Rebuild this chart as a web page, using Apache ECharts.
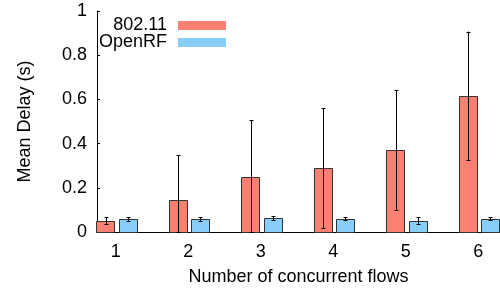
<!DOCTYPE html>
<html>
<head>
<meta charset="utf-8">
<script src="https://cdn.jsdelivr.net/npm/echarts@6/dist/echarts.min.js"></script>
<style>
  html, body { margin: 0; padding: 0; background: #fff; }
  #chart { width: 500px; height: 291px; }
</style>
</head>
<body>
<div id="chart"></div>
<script>
"use strict";

// data
const flows = [1, 2, 3, 4, 5, 6];
const wifiMean = [0.052, 0.143, 0.250, 0.290, 0.370, 0.614];
const wifiLow = [0.037, 0.000, 0.000, 0.019, 0.099, 0.324];
const wifiHigh = [0.067, 0.348, 0.505, 0.560, 0.643, 0.907];
const openMean = [0.058, 0.058, 0.063, 0.060, 0.052, 0.058];
const openLow = [0.051, 0.051, 0.055, 0.054, 0.037, 0.053];
const openHigh = [0.066, 0.066, 0.071, 0.067, 0.067, 0.066];
const yTicks = [0, 0.2, 0.4, 0.6, 0.8, 1];

const RED = "#fa8072";
const BLUE = "#87cefa";
const FONT = "Liberation Sans";
const FS = 18;
const BAR_W = 0.254; // in x units

function rows(mean, low, high) {
  return flows.map((f, i) => [f, mean[i], low[i], high[i]]);
}

function bar_render(offset, color) {
  return function (params, api) {
    const x = api.value(0) + offset;
    const p0 = api.coord([x - BAR_W / 2, api.value(1)]);
    const p1 = api.coord([x + BAR_W / 2, 0]);
    const cx = Math.round(api.coord([x, 0])[0]) + 0.5;
    const lo = api.coord([x, api.value(2)])[1];
    const hi = api.coord([x, api.value(3)])[1];
    const line = (x1, y1, x2, y2) => ({
      type: "line",
      shape: { x1: x1, y1: y1, x2: x2, y2: y2 },
      style: { stroke: "#000", lineWidth: 1 },
    });
    return {
      type: "group",
      children: [
        {
          type: "rect",
          shape: {
            x: Math.round(p0[0]) + 0.5,
            y: Math.round(p0[1]) + 0.5,
            width: Math.round(p1[0] - p0[0]),
            height: Math.round(p1[1]) - Math.round(p0[1]),
          },
          style: { fill: color, stroke: "#333", lineWidth: 1 },
        },
        line(cx, lo, cx, hi),
        line(cx - 2, Math.round(lo) + 0.5, cx + 2, Math.round(lo) + 0.5),
        line(cx - 2, Math.round(hi) + 0.5, cx + 2, Math.round(hi) + 0.5),
      ],
    };
  };
}

const chart = echarts.init(document.getElementById("chart"), null, { renderer: "canvas" });

chart.setOption({
  animation: false,
  textStyle: { fontFamily: FONT },
  grid: { left: 97, right: 0, top: 11, bottom: 59 },
  legend: {
    orient: "vertical",
    right: 269,
    top: 11,
    align: "right",
    itemWidth: 48,
    itemHeight: 9,
    itemGap: -2,
    icon: "rect",
    itemStyle: { borderWidth: 0 },
    textStyle: { fontSize: FS, lineHeight: 19, color: "#000", fontFamily: FONT, padding: [0, 6, 0, 0] },
    data: ["802.11", "OpenRF"],
  },
  xAxis: {
    type: "value",
    min: 0.74,
    max: 6.3,
    name: "Number of concurrent flows",
    nameLocation: "middle",
    nameGap: 36,
    nameTextStyle: { fontSize: FS, color: "#000", fontFamily: FONT },
    axisLine: { show: true, onZero: false, lineStyle: { color: "#000", width: 1 } },
    axisTick: { show: false },
    splitLine: { show: false },
    axisLabel: {
      customValues: flows,
      fontSize: FS,
      color: "#000",
      margin: 11,
      fontFamily: FONT,
    },
  },
  yAxis: {
    type: "value",
    min: 0,
    max: 1,
    interval: 0.2,
    name: "Mean Delay (s)",
    nameLocation: "middle",
    nameGap: 63,
    nameTextStyle: { fontSize: FS, color: "#000", fontFamily: FONT },
    axisLine: { show: true, lineStyle: { color: "#000", width: 1 } },
    axisTick: { show: true, inside: true, length: 3, lineStyle: { color: "#000" } },
    splitLine: { show: false },
    axisLabel: {
      customValues: yTicks,
      fontSize: FS,
      color: "#000",
      margin: 10,
      fontFamily: FONT,
      formatter: (v) => String(parseFloat(v.toFixed(1))),
    },
  },
  series: [
    {
      name: "802.11",
      type: "custom",
      itemStyle: { color: RED },
      renderItem: bar_render(-0.14, RED),
      encode: { x: 0, y: [1, 2, 3] },
      data: rows(wifiMean, wifiLow, wifiHigh),
    },
    {
      name: "OpenRF",
      type: "custom",
      itemStyle: { color: BLUE },
      renderItem: bar_render(0.165, BLUE),
      encode: { x: 0, y: [1, 2, 3] },
      data: rows(openMean, openLow, openHigh),
    },
  ],
});
</script>
</body>
</html>
